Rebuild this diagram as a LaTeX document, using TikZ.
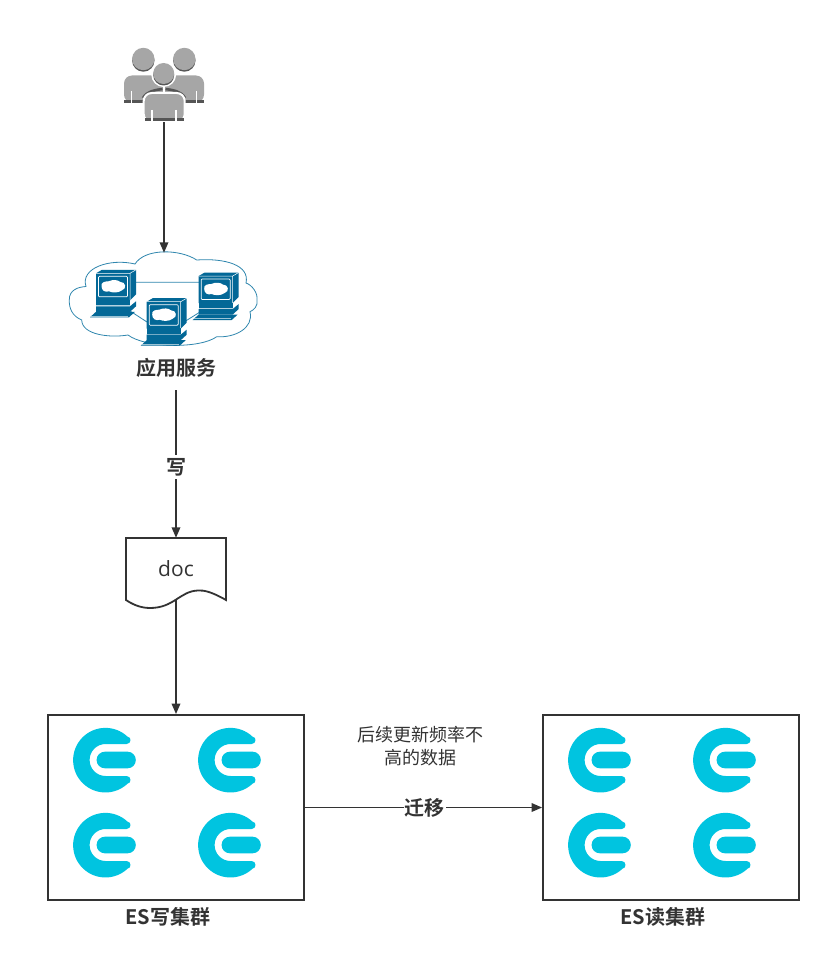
\documentclass[tikz,border=0pt]{standalone}
\usepackage{fontspec}
\setmainfont{Open Sans}
\newfontfamily\cjk{Noto Sans CJK SC}
\newfontfamily\cjkb{Noto Sans CJK SC Bold}
\usetikzlibrary{arrows.meta}
\definecolor{ink}{HTML}{333333}
\definecolor{esblue}{HTML}{00C4E0}
\definecolor{teal}{HTML}{036897}
\definecolor{cloudline}{HTML}{2F86AE}
\definecolor{pgray}{HTML}{A6A6A6}
\definecolor{pdark}{HTML}{555555}
\tikzset{
  x=1pt,y=-1pt,
  conn/.style={draw=ink,line width=1.8pt,-{Triangle[length=10.5pt,width=8.5pt]}},
  boxn/.style={draw=ink,line width=1.8pt,minimum width=256pt,minimum height=185pt,inner sep=0pt},
  blabel/.style={font=\cjkb\fontsize{20}{22}\selectfont,text=ink,inner sep=0pt},
  nlabel/.style={font=\cjk\fontsize{18}{23}\selectfont,text=ink,align=center,inner sep=0pt},
  ghost/.style={inner sep=0pt,minimum width=#1},
  netline/.style={draw=cloudline,line width=0.8pt},
}
% Elastic-style logo
\newcommand{\eslogo}[2]{%
  \begin{scope}[shift={(#1,#2)}]
    \fill[esblue] (22,-23.3) arc[start angle=-46.6,end angle=-313.4,radius=32.3]
      .. controls (26,23.3) and (26,16) .. (21,16)
      -- (0,16) arc[start angle=90,end angle=270,radius=16]
      -- (21,-16) .. controls (26,-16) and (26,-23.3) .. (22,-23.3) -- cycle;
    \fill[esblue,rounded corners=8.2pt] (-9,-8.3) rectangle (30.2,8.3);
  \end{scope}}
% computer
\newcommand{\pc}[2]{%
  \begin{scope}[shift={(#1,#2)}]
    \fill[teal] (0,0) -- (6,-3.5) -- (40,-3.5) -- (40,21) -- (34,27) -- (0,27) -- cycle;
    \draw[white,line width=0.5pt] (34,0) -- (40,-3.5) (0,0) -- (34,0) -- (34,27);
    \draw[white,line width=0.7pt,rounded corners=1pt] (2.5,3) rectangle (31.5,23.5);
    \fill[white] (5.5,13) .. controls (4.5,8.5) and (10,8) .. (12.5,8) .. controls (17,6) and (22,6.5) .. (24,8.5)
       .. controls (30,8.5) and (31,15.5) .. (26,17) .. controls (22,20) and (16,19.5) .. (13,18) .. controls (9,19.5) and (5.5,17) .. (5.5,13) -- cycle;
    \fill[teal] (0,26.5) rectangle (34,32.5);
    \fill[white!70!teal] (0,32) rectangle (34,33);
    \fill[teal] (0,33) -- (34,33) -- (40,28) -- (40,33) -- (34,38.5) -- (0,38.5) -- cycle;
    \fill[teal] (-6,44) -- (0,38.5) -- (39,38.5) -- (33,44) -- cycle;
    \draw[white!60!teal,line width=0.5pt] (-5,42.5) -- (32,42.5);
  \end{scope}}
\begin{document}
\begin{tikzpicture}
\useasboundingbox (0,0) rectangle (831,963);
\fill[white] (0,0) rectangle (831,963);

% users icon
\fill[pdark] (143.3,60.5) circle[radius=11.2];
\fill[pgray] (143.3,59) circle[radius=11.2];
\fill[pdark] (184.3,60.5) circle[radius=11.2];
\fill[pgray] (184.3,59) circle[radius=11.2];
\fill[pgray,rounded corners=8pt] (124,102.7) -- (124,75.5) -- (164,75.5) -- (164,102.7) -- cycle;
\fill[pgray,rounded corners=8pt] (164,102.7) -- (164,75.5) -- (204,75.5) -- (204,102.7) -- cycle;
\fill[pdark] (124,100) rectangle (204,102.7);
\draw[pdark,line width=2.6pt] (143,98) .. controls (147,91) and (155,90) .. (162.5,89);
\draw[pdark,line width=2.6pt] (185,98) .. controls (181,91) and (173,90) .. (165.5,89);
\draw[white,line width=1.1pt] (131.5,91) -- (131.5,102.7) (196.5,91) -- (196.5,102.7);
\draw[white,line width=1.1pt] (164,85) -- (164,92);
\fill[white] (163.7,74.5) circle[radius=12.5];
\fill[pdark] (163.7,75) circle[radius=10.5];
\fill[pgray] (163.7,73.5) circle[radius=10.5];
\fill[pgray,draw=white,line width=2pt,rounded corners=8pt] (143.7,122) -- (143.7,93) -- (184.7,93) -- (184.7,122) -- cycle;
\fill[pdark] (144.5,118.5) rectangle (184,121.2);
\draw[white,line width=1.1pt] (152,110) -- (152,121.2) (176,110) -- (176,121.2);

% cloud and computers
\draw[netline,fill=white] (69.3,300)
  .. controls (69,290) and (78,287) .. (86,286.5)
  .. controls (80,268) and (110,258) .. (135,264)
  .. controls (145,248) and (180,249) .. (196.7,260)
  .. controls (225,258) and (250,265) .. (246,283)
  .. controls (252,285) and (258,293) .. (257,300)
  .. controls (258,306) and (254,310) .. (250,311.7)
  .. controls (254,328) and (235,338) .. (216.7,336.7)
  .. controls (200,349) and (145,348) .. (128,335)
  .. controls (110,338) and (82,335) .. (81.7,320)
  .. controls (72,316) and (69,308) .. (69.3,300) -- cycle;
\draw[netline] (130,282.3) -- (199,282.3) (127,309) -- (147,322) (184,322) -- (200,312);
\pc{96}{273.3}
\pc{198.7}{276}
\pc{146.7}{301.7}

% document
\draw[draw=ink,line width=1.8pt,fill=white] (126,538) -- (226,538) -- (226,600)
  .. controls (212,592) and (204,590) .. (198,590.5)
  .. controls (180,591) and (174,608) .. (150,608)
  .. controls (140,608) and (132,604) .. (126,600) -- cycle;

% named layout nodes
\node[ghost=82pt,minimum height=74pt] (users) at (164,85) {};
\node[ghost=190pt,minimum height=89pt] (app) at (164,297.5) {};
\node[blabel,minimum height=44pt,minimum width=80pt] (applabel) at (176,368) {应用服务};
\node[minimum width=100pt,minimum height=62pt,inner sep=0pt,font=\fontsize{21}{24}\selectfont,text=ink] (doc) at (176,569) {doc};
\node[boxn] (esw) at (176,807.5) {};
\node[boxn] (esr) at (671,807.5) {};
\node[blabel] (eswl) at (168,917) {ES写集群};
\node[blabel] (esrl) at (663,917) {ES读集群};
\node[nlabel] (note) at (420,746.5) {后续更新频率不\\高的数据};

% logos
\eslogo{105.6}{760}
\eslogo{230.6}{760}
\eslogo{105.6}{845}
\eslogo{230.6}{845}
\eslogo{600.6}{760}
\eslogo{725.6}{760}
\eslogo{600.6}{845}
\eslogo{725.6}{845}

% connectors
\draw[conn] (users) -- (app);
\draw[conn] (applabel) -- node[blabel,fill=white,inner ysep=3pt,inner xsep=0pt,pos=0.52] (wlab) {写} (doc);
\draw[conn] (doc) -- (esw);
\draw[conn] (esw) -- node[blabel,fill=white,inner ysep=1pt,inner xsep=1pt,pos=0.505] (mlab) {迁移} (esr);
\end{tikzpicture}
\end{document}
